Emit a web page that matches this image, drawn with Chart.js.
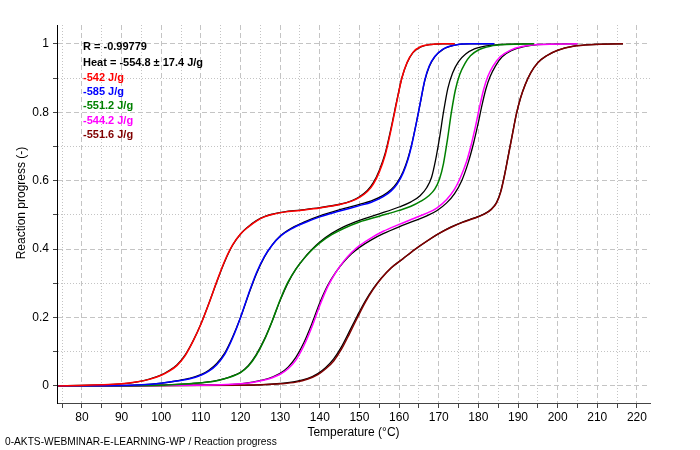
<!DOCTYPE html>
<html>
<head>
<meta charset="utf-8">
<script src="https://cdn.jsdelivr.net/npm/chart.js@4.4.0/dist/chart.umd.min.js"></script>
<style>
  html, body { margin: 0; padding: 0; background: #fff; }
</style>
</head>
<body>
<canvas id="c" width="700" height="450"></canvas>
<script>
// tick values
const xTicks = [75, 80, 85, 90, 95, 100, 105, 110, 115, 120, 125, 130, 135, 140, 145, 150, 155, 160, 165, 170, 175, 180, 185, 190, 195, 200, 205, 210, 215, 220]
const yTicks = [0, 0.1, 0.2, 0.3, 0.4, 0.5, 0.6, 0.7, 0.8, 0.9, 1]

const notes = ['R = -0.99779', 'Heat = -554.8 ± 17.4 J/g']
const heatLabels = ['-542 J/g', '-585 J/g', '-551.2 J/g', '-544.2 J/g', '-551.6 J/g']
const colors = ['#ff0000', '#0000ff', '#008000', '#ff00ff', '#800000']

// measured curves (temperature °C, reaction progress)
const redT = [74, 90, 94, 97, 100, 102, 104, 106, 108, 110, 112, 114, 116, 118, 120, 122, 124, 126, 128, 131, 135, 140, 145, 148, 150, 152, 153.5, 155, 156.5, 158, 159.5, 160.7, 162, 163.5, 165.5, 168, 171, 174]
const redP = [0, 0.006, 0.012, 0.019, 0.031, 0.043, 0.06, 0.088, 0.13, 0.18, 0.24, 0.305, 0.365, 0.412, 0.444, 0.465, 0.482, 0.494, 0.501, 0.508, 0.513, 0.52, 0.53, 0.54, 0.551, 0.568, 0.59, 0.625, 0.675, 0.75, 0.835, 0.9, 0.945, 0.975, 0.992, 0.998, 1, 1]

const blueT = [74, 90, 95, 100, 104, 107, 110, 112, 114, 116, 118, 120, 122, 124, 126, 128, 130, 133, 136, 140, 145, 150, 153, 156, 158, 159.5, 161, 162.2, 163.3, 164.3, 165.3, 166.5, 167.6, 169, 171, 174, 178, 184]
const blueP = [0, 0.001, 0.003, 0.008, 0.014, 0.02, 0.031, 0.043, 0.062, 0.092, 0.14, 0.2, 0.268, 0.33, 0.378, 0.412, 0.437, 0.46, 0.476, 0.494, 0.511, 0.527, 0.537, 0.553, 0.57, 0.59, 0.622, 0.66, 0.71, 0.765, 0.825, 0.895, 0.935, 0.963, 0.984, 0.996, 1, 1]

const greenT = [74, 100, 105, 110, 113, 116, 118, 120, 122, 124, 126, 128, 130, 132, 134, 136, 138, 140, 143, 146, 150, 155, 160, 163, 165.5, 167.5, 169, 170.2, 171.2, 172.2, 173.2, 174.2, 175.3, 176.6, 178, 180, 183, 187, 194]
const greenP = [0, 0.002, 0.005, 0.009, 0.013, 0.021, 0.028, 0.039, 0.058, 0.09, 0.134, 0.19, 0.252, 0.304, 0.342, 0.372, 0.397, 0.418, 0.442, 0.46, 0.479, 0.496, 0.513, 0.525, 0.54, 0.556, 0.575, 0.605, 0.65, 0.72, 0.8, 0.865, 0.91, 0.942, 0.965, 0.982, 0.993, 0.998, 1]

const magentaT = [74, 110, 115, 120, 123, 126, 128, 130, 132, 134, 136, 138, 140, 142, 144, 146, 148, 150, 153, 156, 160, 164, 167, 169.5, 172, 174, 175.5, 177, 178.2, 179.3, 180.3, 181.3, 182.4, 183.7, 185.5, 188, 191, 195, 205]
const magentaP = [0, 0.002, 0.003, 0.006, 0.01, 0.017, 0.024, 0.034, 0.05, 0.076, 0.118, 0.172, 0.235, 0.29, 0.331, 0.364, 0.39, 0.41, 0.433, 0.452, 0.472, 0.491, 0.505, 0.52, 0.545, 0.575, 0.61, 0.655, 0.705, 0.76, 0.815, 0.865, 0.905, 0.935, 0.962, 0.981, 0.992, 0.998, 1]

const maroonT = [74, 120, 125, 130, 134, 137, 139.5, 141.5, 143.5, 145.5, 147.5, 149.5, 151.5, 153.5, 155.5, 158, 161, 164, 167, 170, 173, 176, 179, 181.5, 183.3, 184.6, 185.6, 186.6, 187.6, 188.6, 189.6, 190.6, 191.8, 193.2, 195, 197.2, 200, 204, 209, 216.5]
const maroonP = [0, 0.002, 0.003, 0.006, 0.011, 0.02, 0.033, 0.05, 0.073, 0.108, 0.153, 0.2, 0.245, 0.283, 0.314, 0.345, 0.372, 0.399, 0.423, 0.445, 0.463, 0.478, 0.49, 0.502, 0.516, 0.535, 0.565, 0.615, 0.675, 0.735, 0.795, 0.84, 0.88, 0.915, 0.945, 0.965, 0.981, 0.993, 0.998, 1]

// simulated (fitted) curves, drawn in black
const redFitT = [74, 90, 94, 97, 100, 102, 104, 106, 108, 110, 112, 114, 116, 118, 120, 122, 124, 126, 128, 131, 135, 140, 145, 148, 150, 152, 153.5, 155, 156.5, 158, 159.5, 160.7, 162, 163.5, 165.5, 168, 171, 174]
const redFitP = [0, 0.006, 0.012, 0.02, 0.032, 0.045, 0.062, 0.09, 0.131, 0.181, 0.241, 0.304, 0.363, 0.411, 0.444, 0.466, 0.483, 0.495, 0.502, 0.509, 0.514, 0.521, 0.531, 0.541, 0.553, 0.571, 0.594, 0.63, 0.68, 0.755, 0.838, 0.9, 0.944, 0.974, 0.991, 0.998, 1, 1]

const blueFitT = [74, 90, 95, 100, 104, 107, 110, 112, 114, 116, 118, 120, 122, 124, 126, 128, 130, 133, 136, 140, 145, 150, 153, 156, 158, 159.5, 161, 162.2, 163.3, 164.3, 165.3, 166.5, 167.6, 169, 171, 174, 178, 184]
const blueFitP = [0, 0.001, 0.003, 0.008, 0.015, 0.022, 0.033, 0.046, 0.066, 0.096, 0.143, 0.2, 0.266, 0.327, 0.376, 0.412, 0.438, 0.462, 0.479, 0.497, 0.515, 0.531, 0.541, 0.557, 0.574, 0.594, 0.626, 0.664, 0.712, 0.766, 0.824, 0.893, 0.933, 0.962, 0.983, 0.996, 1, 1]

const greenFitT = [74, 100, 105, 110, 113, 116, 118, 120, 122, 124, 126, 128, 130, 132, 134, 136, 138, 140, 143, 146, 150, 155, 160, 163, 165.3, 167, 168.2, 169.2, 170.2, 171.2, 172.3, 173.5, 175, 176.8, 179, 182, 186, 194]
const greenFitP = [0, 0.002, 0.005, 0.009, 0.013, 0.021, 0.029, 0.04, 0.06, 0.092, 0.136, 0.19, 0.25, 0.302, 0.342, 0.373, 0.399, 0.421, 0.446, 0.465, 0.484, 0.503, 0.523, 0.538, 0.556, 0.58, 0.61, 0.66, 0.725, 0.8, 0.87, 0.915, 0.948, 0.97, 0.985, 0.994, 0.998, 1]

const magentaFitT = [74, 110, 115, 120, 123, 126, 128, 130, 132, 134, 136, 138, 140, 142, 144, 146, 148, 150, 153, 156, 160, 164, 167, 169.5, 172, 174, 175.8, 177.5, 178.8, 179.9, 180.9, 181.9, 183, 184.3, 186, 188.5, 191.5, 195, 205]
const magentaFitP = [0, 0.002, 0.003, 0.006, 0.011, 0.018, 0.026, 0.037, 0.055, 0.084, 0.127, 0.182, 0.243, 0.294, 0.332, 0.362, 0.386, 0.405, 0.427, 0.445, 0.465, 0.483, 0.497, 0.512, 0.535, 0.562, 0.6, 0.655, 0.71, 0.765, 0.82, 0.868, 0.905, 0.935, 0.962, 0.981, 0.992, 0.998, 1]

const maroonFitT = [74, 120, 125, 130, 134, 137, 139.5, 141.5, 143.5, 145.5, 147.5, 149.5, 151.5, 153.5, 155.5, 158, 161, 164, 167, 170, 173, 176, 179, 181.5, 183.3, 184.6, 185.6, 186.6, 187.6, 188.6, 189.6, 190.6, 191.8, 193.2, 195, 197.2, 200, 204, 209, 216.5]
const maroonFitP = [0, 0.002, 0.003, 0.007, 0.013, 0.022, 0.036, 0.054, 0.079, 0.115, 0.16, 0.206, 0.249, 0.285, 0.315, 0.345, 0.372, 0.399, 0.423, 0.445, 0.464, 0.479, 0.491, 0.503, 0.517, 0.537, 0.567, 0.617, 0.677, 0.737, 0.795, 0.84, 0.88, 0.915, 0.945, 0.965, 0.981, 0.993, 0.998, 1]

function pts(ts, ps) {
  return ts.map((t, i) => ({ x: t, y: ps[i] }))
}

const measured = [[redT, redP], [blueT, blueP], [greenT, greenP], [magentaT, magentaP], [maroonT, maroonP]]
const fitted = [[redFitT, redFitP], [blueFitT, blueFitP], [greenFitT, greenFitP], [magentaFitT, magentaFitP], [maroonFitT, maroonFitP]]

// black fits underneath, measured colours on top
const datasets = []
fitted.forEach(([t, p]) => {
  datasets.push({ data: pts(t, p), borderColor: '#000', borderWidth: 1.3, order: 1 })
})
measured.forEach(([t, p], i) => {
  datasets.push({ data: pts(t, p), borderColor: colors[i], borderWidth: 1.5, order: 0 })
})

const font = "'Liberation Sans', Arial, sans-serif"
const gridColor = '#c4c4c4'

const notesPlugin = {
  id: 'notes',
  afterDraw(chart) {
    const ctx = chart.ctx
    ctx.save()
    ctx.textBaseline = 'middle'
    ctx.textAlign = 'left'
    ctx.font = 'bold 11px ' + font
    ctx.fillStyle = '#000'
    ctx.fillText(notes[0], 83, 47)
    ctx.fillText(notes[1], 83, 63)
    heatLabels.forEach((s, i) => {
      ctx.fillStyle = colors[i]
      ctx.fillText(s, 83, 78 + i * 14.2)
    })
    // caption
    ctx.font = '10.2px ' + font
    ctx.fillStyle = '#000'
    ctx.fillText('0-AKTS-WEBMINAR-E-LEARNING-WP / Reaction progress', 5, 442)
    // y axis title
    ctx.translate(22, 203)
    ctx.rotate(-Math.PI / 2)
    ctx.textAlign = 'center'
    ctx.font = '12px ' + font
    ctx.fillText('Reaction progress (-)', 0, 0)
    ctx.restore()
  }
}

new Chart(document.getElementById('c'), {
  type: 'line',
  data: { datasets },
  options: {
    responsive: false,
    animation: false,
    events: [],
    layout: { padding: { top: 25, right: 50, left: 0, bottom: 0 } },
    elements: {
      point: { radius: 0 },
      line: { cubicInterpolationMode: 'monotone', fill: false }
    },
    plugins: { legend: { display: false }, tooltip: { enabled: false } },
    scales: {
      x: {
        type: 'linear',
        min: 73.7,
        max: 223.3,
        afterBuildTicks: s => { s.ticks = xTicks.map(v => ({ value: v })) },
        afterFit: s => { s.height = 47 },
        grid: { color: gridColor, tickColor: '#444', tickLength: 5 },
        border: { color: '#444', width: 1, dash: c => (c.tick && c.tick.value % 10 === 0 ? [5, 3] : [1, 2]) },
        ticks: {
          autoSkip: false, maxRotation: 0, padding: 2, color: '#000',
          font: { family: font, size: 12 },
          callback: v => (v % 10 === 0 ? String(v) : '')
        },
        title: { display: true, text: 'Temperature (°C)', color: '#000', font: { family: font, size: 12 }, padding: { top: 0, bottom: 10 } }
      },
      y: {
        type: 'linear',
        min: -0.05,
        max: 1.055,
        afterBuildTicks: s => { s.ticks = yTicks.map(v => ({ value: v })) },
        afterFit: s => { s.width = 57 },
        grid: { color: gridColor, tickColor: '#444', tickLength: 4 },
        border: { color: '#000', width: 1, dash: c => (c.tick && Math.round(c.tick.value * 10) % 2 === 0 ? [5, 3] : [1, 2]) },
        ticks: {
          autoSkip: false, padding: 4, color: '#000',
          font: { family: font, size: 12 },
          callback: v => {
            const k = Math.round(v * 10)
            if (k % 2 !== 0) return ''
            return k === 0 ? '0' : k === 10 ? '1' : (k / 10).toFixed(1)
          }
        }
      }
    }
  },
  plugins: [notesPlugin]
})
</script>
</body>
</html>
